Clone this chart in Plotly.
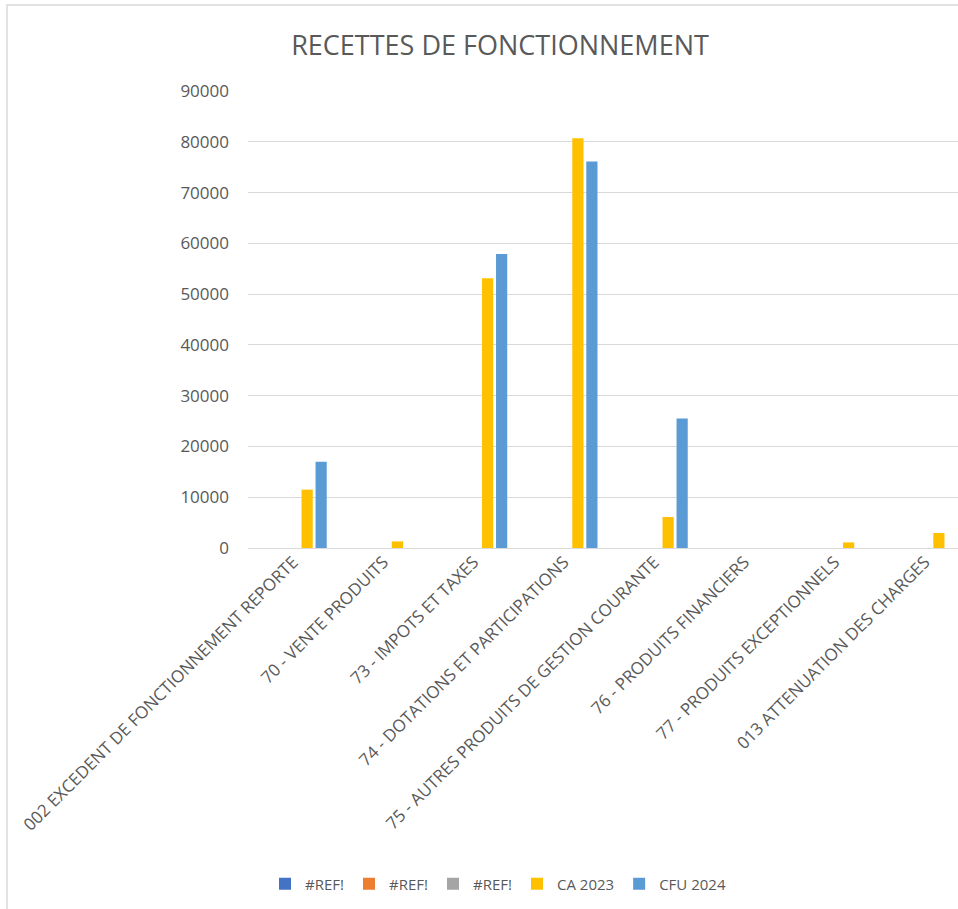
import plotly.graph_objects as go

categories = [
    "002 EXCEDENT DE FONCTIONNEMENT REPORTE",
    "70 - VENTE PRODUITS",
    "73 - IMPOTS ET TAXES",
    "74 - DOTATIONS ET PARTICIPATIONS",
    "75 - AUTRES PRODUITS DE GESTION COURANTE",
    "76 - PRODUITS FINANCIERS",
    "77 - PRODUITS EXCEPTIONNELS",
    "013 ATTENUATION DES CHARGES",
]
ref1 = [None] * 8
ref2 = [None] * 8
ref3 = [None] * 8
ca_2023 = [11500, 1300, 53100, 80700, 6100, 0, 1100, 2950]
cfu_2024 = [17000, 0, 57900, 76100, 25500, 0, 0, 0]
y_ticks = [0, 10000, 20000, 30000, 40000, 50000, 60000, 70000, 80000, 90000]

series = [
    ("#REF!", ref1, "#4472C4"),
    ("#REF!", ref2, "#ED7D31"),
    ("#REF!", ref3, "#A5A5A5"),
    ("CA 2023", ca_2023, "#FFC000"),
    ("CFU 2024", cfu_2024, "#5B9BD5"),
]

fig = go.Figure()
for name, vals, col in series:
    fig.add_trace(go.Bar(x=categories, y=vals, name=name,
                         marker=dict(color=col, line=dict(width=0))))

FONT = "Open Sans"
GREY = "#595959"

W, H = 958, 909
L, R, T = 248, 0, 91
bottom = 548
B = H - bottom
plot_w = W - L - R
plot_h = bottom - T
cat_w = 90.25

fig.update_layout(
    width=W, height=H,
    margin=dict(l=L, r=R, t=T, b=B, pad=0),
    paper_bgcolor="white", plot_bgcolor="white",
    barmode="group", bargap=0.224, bargroupgap=0.2,
    font=dict(family=FONT, color=GREY, size=16),
    title=dict(text="RECETTES DE FONCTIONNEMENT", x=500 / W, xanchor="center",
               y=1 - 46 / H, yanchor="middle", xref="container", yref="container",
               font=dict(family=FONT, size=27, color=GREY)),
    xaxis=dict(range=[-0.5, -0.5 + plot_w / cat_w], tickangle=-45,
               showgrid=False, showline=False, ticks="", zeroline=False,
               tickfont=dict(family=FONT, size=17, color=GREY)),
    yaxis=dict(range=[0, 90000], tickvals=y_ticks, ticktext=[str(v) for v in y_ticks],
               showgrid=True, gridcolor="#D9D9D9", gridwidth=1,
               zeroline=True, zerolinecolor="#D9D9D9", zerolinewidth=1,
               showline=False, ticks="", ticklabelstandoff=18,
               tickfont=dict(family=FONT, size=17, color=GREY)),
    legend=dict(orientation="h", x=(498 - L) / plot_w, xanchor="center",
                y=(bottom - 884) / plot_h, yanchor="middle",
                font=dict(family=FONT, size=15, color=GREY),
                itemwidth=30, tracegroupgap=0),
    shapes=[dict(type="rect", xref="paper", yref="paper",
                 x0=(7 - L) / plot_w, x1=2.0, y0=-2.0, y1=(bottom - 5) / plot_h,
                 line=dict(color="#D9D9D9", width=1.5), fillcolor="rgba(0,0,0,0)",
                 layer="below")],
    showlegend=True,
)

fig.write_html("out.html", config={"displayModeBar": False},
               post_script="document.body.style.margin='0px';document.body.style.overflow='hidden';")
